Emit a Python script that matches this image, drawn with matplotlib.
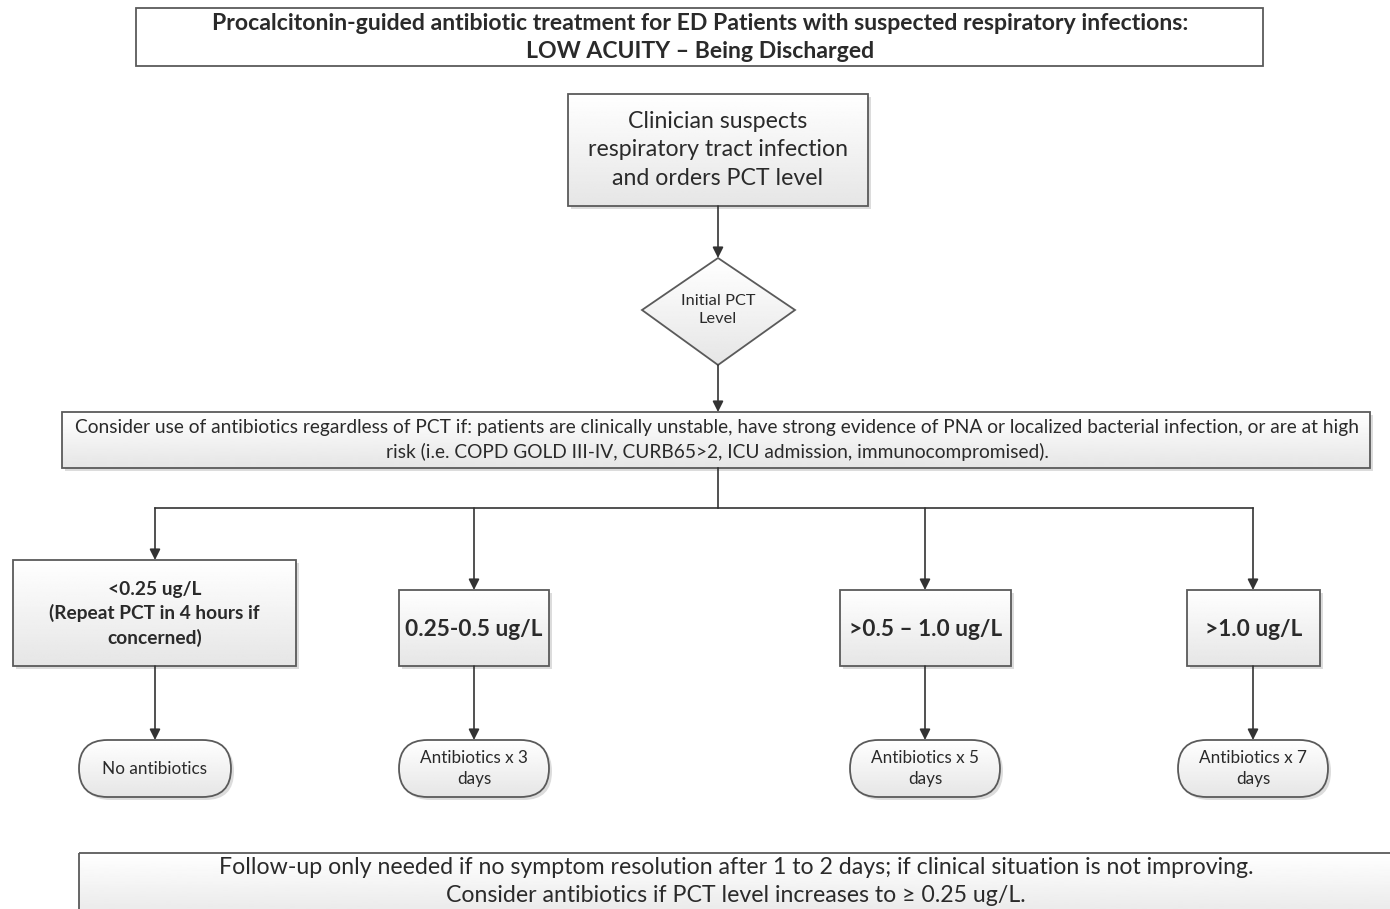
import numpy as np
import matplotlib
matplotlib.use("Agg")
import matplotlib.pyplot as plt
from matplotlib.patches import FancyBboxPatch, Polygon

plt.rcParams['font.family'] = ['Lato', 'DejaVu Sans']

# texts of the flowchart
title_lines = ["Procalcitonin-guided antibiotic treatment for ED Patients with suspected respiratory infections:",
               "LOW ACUITY \u2013 Being Discharged"]
start_text = "Clinician suspects\nrespiratory tract infection\nand orders PCT level"
decision_text = "Initial PCT\nLevel"
consider_lines = ["Consider use of antibiotics regardless of PCT if: patients are clinically unstable, have strong evidence of PNA or localized bacterial infection, or are at high",
                  "risk (i.e. COPD GOLD III-IV, CURB65>2, ICU admission, immunocompromised)."]
pct_levels = ["<0.25 ug/L\n(Repeat PCT in 4 hours if\nconcerned)", "0.25-0.5 ug/L", ">0.5 \u2013 1.0 ug/L", ">1.0 ug/L"]
treatments = ["No antibiotics", "Antibiotics x 3\ndays", "Antibiotics x 5\ndays", "Antibiotics x 7\ndays"]
followup_lines = ["Follow-up only needed if no symptom resolution after 1 to 2 days; if clinical situation is not improving.",
                  "Consider antibiotics if PCT level increases to \u2265 0.25 ug/L."]

# layout (pixels, y down)
branch_x = [155, 474, 925, 1253]
level_boxes = [(13, 560, 296, 666), (399, 590, 549, 666), (840, 590, 1011, 666), (1187, 590, 1320, 666)]
treat_boxes = [(79, 740, 231, 797), (399, 740, 549, 797), (850, 740, 1000, 797), (1178, 740, 1328, 797)]

W, H = 1390, 909
fig = plt.figure(figsize=(W / 100, H / 100), dpi=100)
ax = fig.add_axes([0, 0, 1, 1])
ax.set_xlim(0, W)
ax.set_ylim(H, 0)
ax.axis('off')

EDGE = '#5a5a5a'
TXT = '#2a2a2a'
grad = np.linspace(1.0, 0.9, 64)[:, None]


def box(x0, y0, x1, y1, rounded=False, fill=True, shadow=True):
    w, h = x1 - x0, y1 - y0
    style = 'round,pad=0,rounding_size=%f' % (h / 2) if rounded else 'square,pad=0'
    if shadow:
        sh = FancyBboxPatch((x0 + 3, y0 + 3), w, h, boxstyle=style, fc='#dcdcdc', ec='none', zorder=1)
        ax.add_patch(sh)
    p = FancyBboxPatch((x0, y0), w, h, boxstyle=style, fc='white', ec=EDGE, lw=1.3, zorder=3)
    ax.add_patch(p)
    if fill:
        im = ax.imshow(grad, cmap='gray', vmin=0, vmax=1, extent=(x0, x1, y1, y0),
                       aspect='auto', interpolation='bilinear', zorder=2)
        im.set_clip_path(p)
        p.set_facecolor('none')


def arrow(x, y0, y1):
    ax.annotate('', xy=(x, y1), xytext=(x, y0),
                arrowprops=dict(arrowstyle='-|>', color='#333333', lw=1.2,
                                mutation_scale=16, shrinkA=0, shrinkB=0), zorder=4)


def label(x, y, s, fs, bold=False, ls=1.3):
    ax.text(x, y, s, ha='center', va='center', fontsize=fs, color=TXT,
            fontweight='bold' if bold else 'normal', linespacing=ls, zorder=5)


# title
box(136, 8, 1263, 66, fill=False, shadow=False)
label(700, 24, title_lines[0], 16.6, bold=True)
label(700, 52, title_lines[1], 16.6, bold=True)

# start box
box(568, 94, 868, 206)
label(718, 150, start_text, 16.7, ls=1.45)
arrow(718, 206, 258)

# decision diamond
dx, dy = [642, 718, 795, 718], [310, 258, 310, 365]
dia = Polygon(list(zip(dx, dy)), closed=True, fc='none', ec=EDGE, lw=1.3, zorder=3)
ax.add_patch(dia)
im = ax.imshow(grad, cmap='gray', vmin=0, vmax=1, extent=(642, 795, 365, 258),
               aspect='auto', interpolation='bilinear', zorder=2)
im.set_clip_path(dia)
label(718, 310, decision_text, 11.8, ls=1.4)
arrow(718, 365, 412)

# consider box
box(62, 412, 1370, 468)
label(717, 428, consider_lines[0], 13.8)
label(717, 452, consider_lines[1], 13.8)

# branches
ax.plot([718, 718], [468, 508], color='#333333', lw=1.2, zorder=4)
ax.plot([branch_x[0], branch_x[-1]], [508, 508], color='#333333', lw=1.2, zorder=4)
for i, x in enumerate(branch_x):
    lb = level_boxes[i]
    tb = treat_boxes[i]
    arrow(x, 508, lb[1])
    box(*lb)
    fs = 13.8 if i == 0 else 16.3
    label((lb[0] + lb[2]) / 2, (lb[1] + lb[3]) / 2 + 1, pct_levels[i], fs, bold=True, ls=1.42)
    arrow(x, lb[3], tb[1])
    box(*tb, rounded=True)
    label((tb[0] + tb[2]) / 2, (tb[1] + tb[3]) / 2, treatments[i], 12.3, ls=1.42)

# follow-up box
box(79, 853, 1400, 925)
label(736, 867, followup_lines[0], 16.7)
label(736, 896, followup_lines[1], 16.7)

fig.savefig('out.png', dpi=100)
